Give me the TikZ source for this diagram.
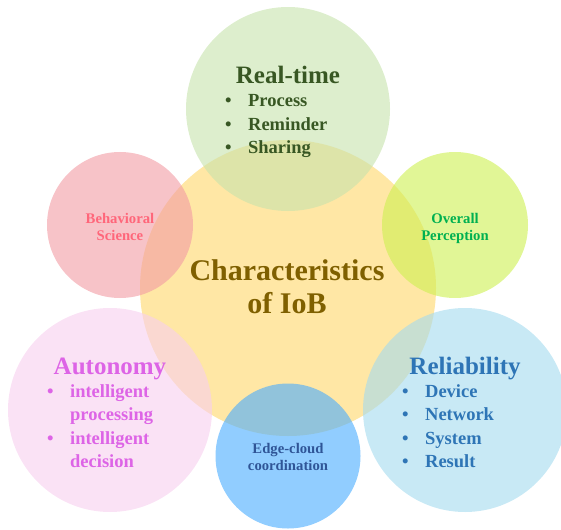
\documentclass[tikz,border=0pt]{standalone}
\usepackage{fontspec}
\setmainfont{Liberation Serif}
\usepackage{xcolor}

% bubble fills (drawn at 60% opacity)
\definecolor{coreFill}{RGB}{255,215,105}
\definecolor{rtFill}{RGB}{198,227,172}
\definecolor{bsFill}{RGB}{242,155,163}
\definecolor{opFill}{RGB}{205,240,80}
\definecolor{auFill}{RGB}{247,207,238}
\definecolor{reFill}{RGB}{163,218,238}
\definecolor{ecFill}{RGB}{72,172,255}
% texts
\definecolor{coreText}{RGB}{127,96,0}
\definecolor{rtText}{RGB}{56,87,35}
\definecolor{bsText}{RGB}{255,102,122}
\definecolor{opText}{RGB}{0,176,80}
\definecolor{auText}{RGB}{221,100,230}
\definecolor{reText}{RGB}{46,117,182}
\definecolor{ecText}{RGB}{47,85,151}

\begin{document}
\begin{tikzpicture}[x=1pt, y=-1pt]
                        % one pt = one pixel of the reference, y runs down
                        \tikzstyle{every node}=[inner sep=0pt]
                        \tikzstyle{bubble}=[circle, draw=none, fill opacity=0.6]
                        \tikzstyle{head}=[anchor=base, font=\bfseries\fontsize{25}{30}\selectfont]
                        \tikzstyle{items}=[anchor=base west, font=\bfseries\fontsize{18.5}{23.5}\selectfont]
                        \tikzstyle{small}=[anchor=base, font=\bfseries\fontsize{14.7}{17}\selectfont]

                        \useasboundingbox (0,0) rectangle (561,529);
                        \clip (0,0) rectangle (561,529);

                        \node[bubble, fill=coreFill, minimum size=296pt] (IoB) at (288,288) {};
                        \node[bubble, fill=rtFill, minimum size=204pt] (RT) at (288,109) {};
                        \node[bubble, fill=bsFill, minimum size=146pt] (BS) at (120,225) {};
                        \node[bubble, fill=opFill, minimum size=146pt] (OP) at (455,225) {};
                        \node[bubble, fill=auFill, minimum size=204pt] (AU) at (110,410) {};
                        \node[bubble, fill=reFill, minimum size=204pt] (RE) at (465,410) {};
                        \node[bubble, fill=ecFill, minimum size=145pt] (EC) at (288,456) {};

                        % centre
                        \node[anchor=base, text=coreText, font=\bfseries\fontsize{30}{33}\selectfont] (IoBtext) at (287,280)
                                {\begin{tabular}[t]{@{}c@{}}Characteristics\\of IoB\end{tabular}};

                        % Real-time
                        \node[head, text=rtText] (RThead) at (288,84) {Real-time};
                        \node[items, text=rtText] (RTlist) at (225,107)
                                {\begin{tabular}[t]{@{}l@{\hspace{16.5pt}}l@{}}
                                \textbullet & Process\\
                                \textbullet & Reminder\\
                                \textbullet & Sharing
                                \end{tabular}};

                        \node[small, text=bsText] (BStext) at (120,223)
                                {\begin{tabular}[t]{@{}c@{}}Behavioral\\Science\end{tabular}};
                        \node[small, text=opText] (OPtext) at (455,223)
                                {\begin{tabular}[t]{@{}c@{}}Overall\\Perception\end{tabular}};

                        % Autonomy
                        \node[head, text=auText] (AUhead) at (110,374) {Autonomy};
                        \node[items, text=auText] (AUlist) at (47,397)
                                {\begin{tabular}[t]{@{}l@{\hspace{16.5pt}}l@{}}
                                \textbullet & intelligent\\
                                            & processing\\
                                \textbullet & intelligent\\
                                            & decision
                                \end{tabular}};

                        % Reliability
                        \node[head, text=reText] (REhead) at (465,374) {Reliability};
                        \node[items, text=reText] (RElist) at (402,397)
                                {\begin{tabular}[t]{@{}l@{\hspace{16.5pt}}l@{}}
                                \textbullet & Device\\
                                \textbullet & Network\\
                                \textbullet & System\\
                                \textbullet & Result
                                \end{tabular}};

                        \node[small, text=ecText] (ECtext) at (288,453)
                                {\begin{tabular}[t]{@{}c@{}}Edge-cloud\\coordination\end{tabular}};

\end{tikzpicture}
\end{document}
